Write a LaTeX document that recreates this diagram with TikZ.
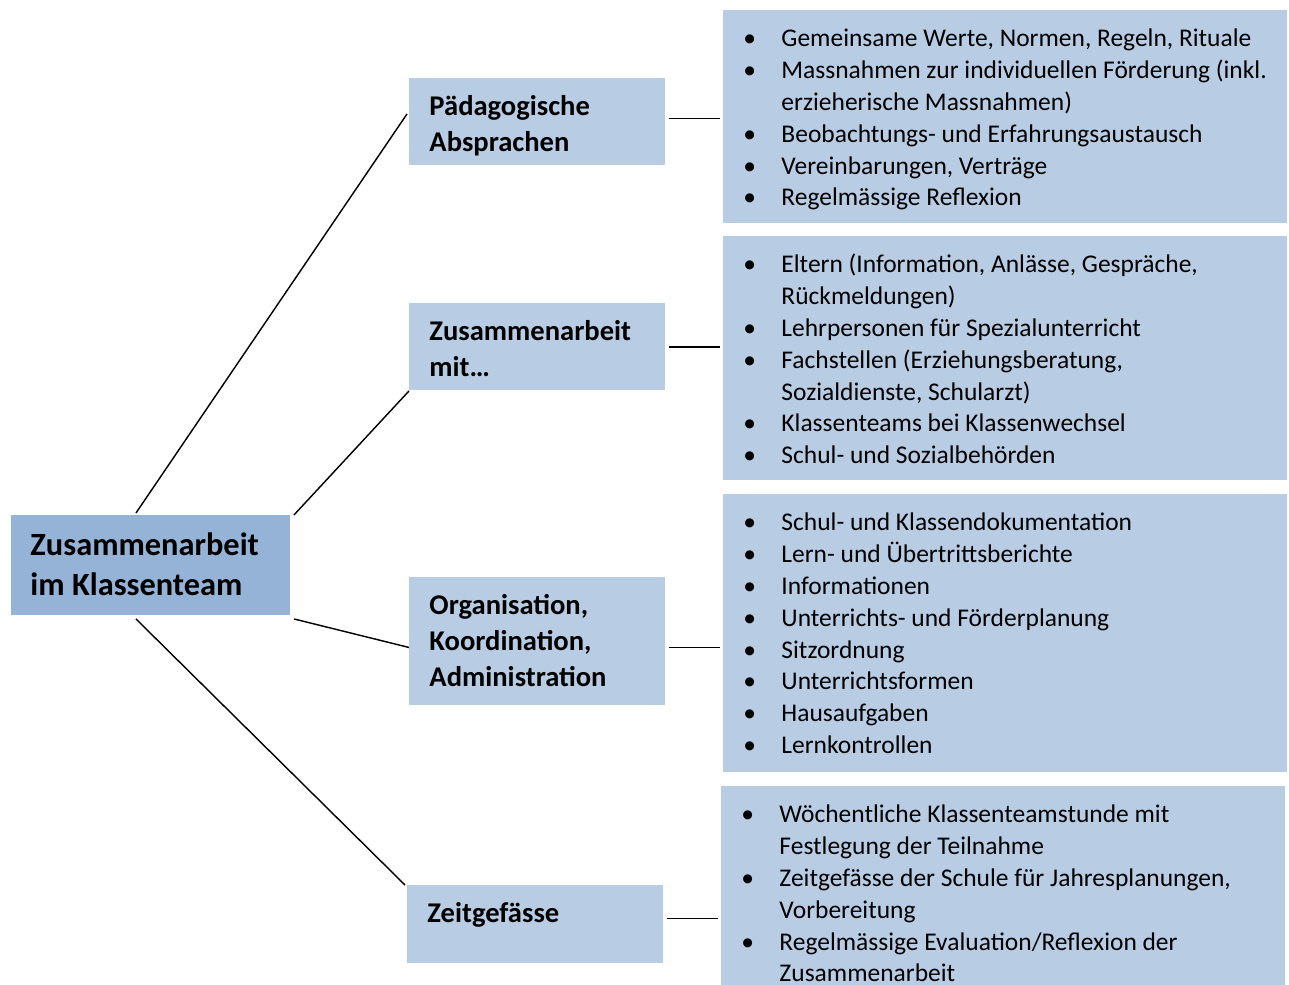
\documentclass[tikz,border=0pt]{standalone}
\usepackage{fontspec}
\setmainfont{Carlito}
\usetikzlibrary{calc}
\definecolor{cRoot}{HTML}{95B3D7}
\definecolor{cBox}{HTML}{B8CCE4}
\newdimen\pu \pu=0.42pt
% box content: width, height, first baseline, left indent (all in px)
\newcommand{\boxtext}[5]{\parbox[c][#2\pu][t]{#1\pu}{\vspace*{\dimexpr#3\pu-\ht\strutbox\relax}\raggedright\leftskip=#4\pu\relax#5}}
\newcommand{\bul}{\par\hangindent=58\pu\hangafter=1\noindent\makebox[58\pu][l]{\strut\hspace*{20\pu}\textbullet}}

\begin{document}
\begin{tikzpicture}[
  x=0.42pt, y=-0.42pt,
  box/.style={fill=#1, inner sep=0pt, anchor=north west},
  rootbox/.style={box=cRoot, font=\bfseries\fontsize{13.6}{16.8}\selectfont},
  headbox/.style={box=cBox, font=\bfseries\fontsize{12}{15.1}\selectfont},
  listbox/.style={box=cBox, font=\fontsize{10.7}{13.4}\selectfont},
  conn/.style={draw=black, line width=0.6pt},
]
\useasboundingbox (0,0) rectangle (1289,985);

% =========================== root ===========================
\node[rootbox] (root) at (11,515) {\boxtext{279}{100}{40}{19}{\strut Zusammenarbeit\\im Klassenteam}};

% =========================== middle column ===========================
\node[headbox] (pa) at (409,78)  {\boxtext{256}{87}{37}{20}{\strut Pädagogische\\Absprachen}};
\node[headbox] (zu) at (409,303) {\boxtext{256}{87}{37}{20}{\strut Zusammenarbeit\\mit…}};
\node[headbox] (or) at (409,577) {\boxtext{256}{128}{37}{20}{\strut Organisation,\\Koordination,\\Administration}};
\node[headbox] (ze) at (407,885) {\boxtext{256}{78}{37}{20}{\strut Zeitgefässe}};

% =========================== right column ===========================
\node[listbox] (r1) at (723,10) {\boxtext{564}{213}{36}{0}{%
  \bul Gemeinsame Werte, Normen, Regeln, Rituale
  \bul Massnahmen zur individuellen Förderung (inkl.\newline erzieherische Massnahmen)
  \bul Beobachtungs- und Erfahrungsaustausch
  \bul Vereinbarungen, Verträge
  \bul Regelmässige Reflexion}};
\node[listbox] (r2) at (723,236) {\boxtext{564}{244}{36}{0}{%
  \bul Eltern (Information, Anlässe, Gespräche,\newline Rückmeldungen)
  \bul Lehrpersonen für Spezialunterricht
  \bul Fachstellen (Erziehungsberatung,\newline Sozialdienste, Schularzt)
  \bul Klassenteams bei Klassenwechsel
  \bul Schul- und Sozialbehörden}};
\node[listbox] (r3) at (723,494) {\boxtext{564}{278}{36}{0}{%
  \bul Schul- und Klassendokumentation
  \bul Lern- und Übertrittsberichte
  \bul Informationen
  \bul Unterrichts- und Förderplanung
  \bul Sitzordnung
  \bul Unterrichtsformen
  \bul Hausaufgaben
  \bul Lernkontrollen}};
\node[listbox] (r4) at (721,786) {\boxtext{564}{199}{36}{0}{%
  \bul Wöchentliche Klassenteamstunde mit\newline Festlegung der Teilnahme
  \bul Zeitgefässe der Schule für Jahresplanungen,\newline Vorbereitung
  \bul Regelmässige Evaluation/Reflexion der\newline Zusammenarbeit}};

% root -> middle
\draw[conn] ([shift={(-15,-2)}]root.north) -- ([shift={(-2,-8)}]pa.west);
\draw[conn] ([shift={(3,0)}]root.north east) -- (zu.south west);
\draw[conn] ([shift={(3,3)}]root.south east) -- ([shift={(0,6)}]or.west);
\draw[conn] ([shift={(-15,3)}]root.south) -- ([shift={(-2,0)}]ze.north west);

% middle -> right
\foreach \src/\dst/\dy in {pa/r1/-3.5, zu/r2/0, or/r3/6, ze/r4/-6} {
  \coordinate (s\src) at ([shift={(3,\dy)}]\src.east);
  \coordinate (t\src) at ($(s\src -| \dst.west)+(-3,0)$);
  \draw[conn] (s\src) -- (t\src);
}

\end{tikzpicture}
\end{document}
